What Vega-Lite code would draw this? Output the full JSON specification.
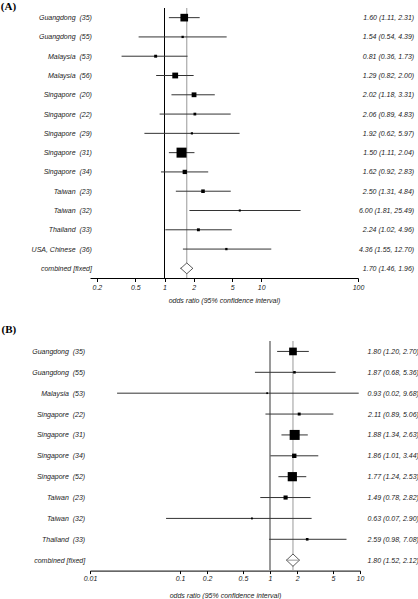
{
  "$schema": "https://vega.github.io/schema/vega-lite/v6.json",
  "padding": 0,
  "autosize": {"type": "pad"},
  "background": "white",
  "config": {
    "view": {"stroke": null},
    "font": "Liberation Sans",
    "axis": {"labelFont": "Liberation Sans", "labelFontStyle": "italic", "labelFontSize": 7, "labelColor": "#222", "titleFont": "Liberation Sans", "titleFontStyle": "italic", "titleFontWeight": "normal", "titleFontSize": 7, "titleColor": "#222", "grid": false},
    "title": {"font": "Liberation Serif", "fontSize": 11, "fontWeight": "bold", "anchor": "start", "frame": "group", "color": "#000"}
  },
  "datasets": {
    "a": [
      {"label": "Guangdong\u00a0 (35)", "ci": "1.60 (1.11, 2.31)", "est": 1.60, "lo": 1.11, "hi": 2.31, "weight": 28.6, "kind": "study"},
      {"label": "Guangdong\u00a0 (55)", "ci": "1.54 (0.54, 4.39)", "est": 1.54, "lo": 0.54, "hi": 4.39, "weight": 3.50, "kind": "study"},
      {"label": "Malaysia\u00a0 (53)", "ci": "0.81 (0.36, 1.73)", "est": 0.81, "lo": 0.36, "hi": 1.73, "weight": 6.23, "kind": "study"},
      {"label": "Malaysia\u00a0 (56)", "ci": "1.29 (0.82, 2.00)", "est": 1.29, "lo": 0.82, "hi": 2.00, "weight": 19.3, "kind": "study"},
      {"label": "Singapore\u00a0 (20)", "ci": "2.02 (1.18, 3.31)", "est": 2.02, "lo": 1.18, "hi": 3.31, "weight": 14.45, "kind": "study"},
      {"label": "Singapore\u00a0 (22)", "ci": "2.06 (0.89, 4.83)", "est": 2.06, "lo": 0.89, "hi": 4.83, "weight": 5.37, "kind": "study"},
      {"label": "Singapore\u00a0 (29)", "ci": "1.92 (0.62, 5.97)", "est": 1.92, "lo": 0.62, "hi": 5.97, "weight": 2.99, "kind": "study"},
      {"label": "Singapore\u00a0 (31)", "ci": "1.50 (1.11, 2.04)", "est": 1.50, "lo": 1.11, "hi": 2.04, "weight": 41.5, "kind": "study"},
      {"label": "Singapore\u00a0 (34)", "ci": "1.62 (0.92, 2.83)", "est": 1.62, "lo": 0.92, "hi": 2.83, "weight": 12.2, "kind": "study"},
      {"label": "Taiwan\u00a0 (23)", "ci": "2.50 (1.31, 4.84)", "est": 2.50, "lo": 1.31, "hi": 4.84, "weight": 9.0, "kind": "study"},
      {"label": "Taiwan\u00a0 (32)", "ci": "6.00 (1.81, 25.49)", "est": 6.00, "lo": 1.81, "hi": 25.49, "weight": 2.2, "kind": "study"},
      {"label": "Thailand\u00a0 (33)", "ci": "2.24 (1.02, 4.96)", "est": 2.24, "lo": 1.02, "hi": 4.96, "weight": 6.14, "kind": "study"},
      {"label": "USA, Chinese\u00a0 (36)", "ci": "4.36 (1.55, 12.70)", "est": 4.36, "lo": 1.55, "hi": 12.70, "weight": 3.47, "kind": "study"},
      {"label": "combined [fixed]", "ci": "1.70 (1.46, 1.96)", "est": 1.70, "lo": 1.46, "hi": 1.96, "weight": null, "kind": "combined"}
    ],
    "b": [
      {"label": "Guangdong\u00a0 (35)", "ci": "1.80 (1.20, 2.70)", "est": 1.80, "lo": 1.20, "hi": 2.70, "weight": 23.4, "kind": "study"},
      {"label": "Guangdong\u00a0 (55)", "ci": "1.87 (0.68, 5.36)", "est": 1.87, "lo": 0.68, "hi": 5.36, "weight": 3.6, "kind": "study"},
      {"label": "Malaysia\u00a0 (53)", "ci": "0.93 (0.02, 9.68)", "est": 0.93, "lo": 0.02, "hi": 9.68, "weight": 0.40, "kind": "study"},
      {"label": "Singapore\u00a0 (22)", "ci": "2.11 (0.89, 5.06)", "est": 2.11, "lo": 0.89, "hi": 5.06, "weight": 5.09, "kind": "study"},
      {"label": "Singapore\u00a0 (31)", "ci": "1.88 (1.34, 2.63)", "est": 1.88, "lo": 1.34, "hi": 2.63, "weight": 33.8, "kind": "study"},
      {"label": "Singapore\u00a0 (34)", "ci": "1.86 (1.01, 3.44)", "est": 1.86, "lo": 1.01, "hi": 3.44, "weight": 10.2, "kind": "study"},
      {"label": "Singapore\u00a0 (52)", "ci": "1.77 (1.24, 2.53)", "est": 1.77, "lo": 1.24, "hi": 2.53, "weight": 30.2, "kind": "study"},
      {"label": "Taiwan\u00a0 (23)", "ci": "1.49 (0.78, 2.82)", "est": 1.49, "lo": 0.78, "hi": 2.82, "weight": 9.3, "kind": "study"},
      {"label": "Taiwan\u00a0 (32)", "ci": "0.63 (0.07, 2.90)", "est": 0.63, "lo": 0.07, "hi": 2.90, "weight": 1.11, "kind": "study"},
      {"label": "Thailand\u00a0 (33)", "ci": "2.59 (0.98, 7.08)", "est": 2.59, "lo": 0.98, "hi": 7.08, "weight": 3.93, "kind": "study"},
      {"label": "combined [fixed]", "ci": "1.80 (1.52, 2.12)", "est": 1.80, "lo": 1.52, "hi": 2.12, "weight": null, "kind": "combined"}
    ]
  },
  "spacing": 20,
  "resolve": {"scale": {"size": "independent", "x": "independent", "y": "independent"}},
  "vconcat": [
    {
      "title": {"text": "(A)", "dx": -89.15, "offset": -4},
      "width": 268,
      "height": 270,
      "data": {"name": "a"},
      "resolve": {"scale": {"y": "independent"}, "axis": {"y": "independent"}},
      "layer": [
        {
          "layer": [
            {
              "mark": {"type": "rule", "color": "#000", "strokeWidth": 1},
              "encoding": {
                "x": {"datum": 1, "type": "quantitative",
                  "scale": {"type": "log", "domain": [0.16981, 100], "nice": false, "zero": false},
                  "axis": {"values": [0.2, 0.5, 1, 2, 5, 10, 100], "format": "~g", "title": "odds ratio (95% confidence interval)", "tickSize": 3.5, "labelPadding": 1.5, "titlePadding": 6, "domainColor": "#000", "tickColor": "#000", "labelFlush": false, "labelOverlap": false}}
              }
            },
            {
              "transform": [{"filter": "datum.kind === 'combined'"}],
              "mark": {"type": "rule", "color": "#999", "strokeWidth": 1},
              "encoding": {"x": {"field": "est", "type": "quantitative"}}
            },
            {
              "mark": {"type": "rule", "color": "#333", "strokeWidth": 1},
              "encoding": {
                "x": {"field": "lo", "type": "quantitative"},
                "x2": {"field": "hi"},
                "y": {"field": "label", "type": "nominal", "sort": null, "scale": {"type": "point", "padding": 0.5},
                  "axis": {"title": null, "orient": "left", "ticks": false, "domain": false, "labelPadding": -1.4}}
              }
            },
            {
              "transform": [{"filter": "datum.kind === 'study'"}],
              "mark": {"type": "square", "filled": true, "color": "#000", "opacity": 1},
              "encoding": {
                "x": {"field": "est", "type": "quantitative"},
                "y": {"field": "label", "type": "nominal", "sort": null},
                "size": {"field": "weight", "type": "quantitative", "scale": {"type": "pow", "exponent": 1.5, "domain": [0, 41.5], "range": [3, 100]}, "legend": null}
              }
            },
            {
              "transform": [{"filter": "datum.kind === 'combined'"}],
              "mark": {"type": "point", "shape": "M-1,0L0,-0.9L1,0L0,0.9Z", "size": 144, "filled": true, "fill": "white", "stroke": "#333", "strokeWidth": 0.8, "opacity": 1},
              "encoding": {
                "x": {"field": "est", "type": "quantitative"},
                "y": {"field": "label", "type": "nominal", "sort": null}
              }
            }
          ]
        },
        {
          "mark": {"type": "point", "opacity": 0},
          "encoding": {
            "x": {"field": "est", "type": "quantitative"},
            "y": {"field": "ci", "type": "nominal", "sort": null, "scale": {"type": "point", "padding": 0.5},
              "axis": {"title": null, "orient": "right", "ticks": false, "domain": false, "labelAlign": "right", "labelPadding": 55.7}}
          }
        }
      ]
    },
    {
      "title": {"text": "(B)", "dx": -88.4, "offset": 6},
      "width": 270,
      "height": 229.6,
      "data": {"name": "b"},
      "resolve": {"scale": {"y": "independent"}, "axis": {"y": "independent"}},
      "layer": [
        {
          "layer": [
            {
              "mark": {"type": "rule", "color": "#999", "strokeWidth": 1},
              "encoding": {
                "x": {"datum": 1, "type": "quantitative",
                  "scale": {"type": "log", "domain": [0.01, 10], "nice": false, "zero": false},
                  "axis": {"values": [0.01, 0.1, 0.2, 0.5, 1, 2, 5, 10], "format": "~g", "title": "odds ratio (95% confidence interval)", "tickSize": 3, "labelPadding": 0.5, "titlePadding": 10, "domainColor": "#000", "tickColor": "#000", "labelFlush": false, "labelOverlap": false}}
              }
            },
            {
              "transform": [{"filter": "datum.kind === 'combined'"}],
              "mark": {"type": "rule", "color": "#999", "strokeWidth": 1},
              "encoding": {"x": {"field": "est", "type": "quantitative"}}
            },
            {
              "mark": {"type": "rule", "color": "#333", "strokeWidth": 1},
              "encoding": {
                "x": {"field": "lo", "type": "quantitative"},
                "x2": {"field": "hi"},
                "y": {"field": "label", "type": "nominal", "sort": null, "scale": {"type": "point", "padding": 0.5},
                  "axis": {"title": null, "orient": "left", "ticks": false, "domain": false, "labelPadding": 5.3}}
              }
            },
            {
              "transform": [{"filter": "datum.kind === 'study'"}],
              "mark": {"type": "square", "filled": true, "color": "#000", "opacity": 1},
              "encoding": {
                "x": {"field": "est", "type": "quantitative"},
                "y": {"field": "label", "type": "nominal", "sort": null},
                "size": {"field": "weight", "type": "quantitative", "scale": {"type": "pow", "exponent": 1.5, "domain": [0, 33.8], "range": [3, 100]}, "legend": null}
              }
            },
            {
              "transform": [{"filter": "datum.kind === 'combined'"}],
              "mark": {"type": "point", "shape": "M-1,0L0,-0.95L1,0L0,0.95Z", "size": 169, "filled": true, "fill": "white", "stroke": "#333", "strokeWidth": 0.8, "opacity": 1},
              "encoding": {
                "x": {"field": "est", "type": "quantitative"},
                "y": {"field": "label", "type": "nominal", "sort": null}
              }
            },
            {
              "transform": [{"filter": "datum.kind === 'combined'"}],
              "mark": {"type": "rule", "color": "#999", "strokeWidth": 1},
              "encoding": {
                "x": {"field": "lo", "type": "quantitative"},
                "x2": {"field": "hi"},
                "y": {"field": "label", "type": "nominal", "sort": null}
              }
            }
          ]
        },
        {
          "mark": {"type": "point", "opacity": 0},
          "encoding": {
            "x": {"field": "est", "type": "quantitative"},
            "y": {"field": "ci", "type": "nominal", "sort": null, "scale": {"type": "point", "padding": 0.5},
              "axis": {"title": null, "orient": "right", "ticks": false, "domain": false, "labelAlign": "right", "labelPadding": 58.4}}
          }
        }
      ]
    }
  ]
}
